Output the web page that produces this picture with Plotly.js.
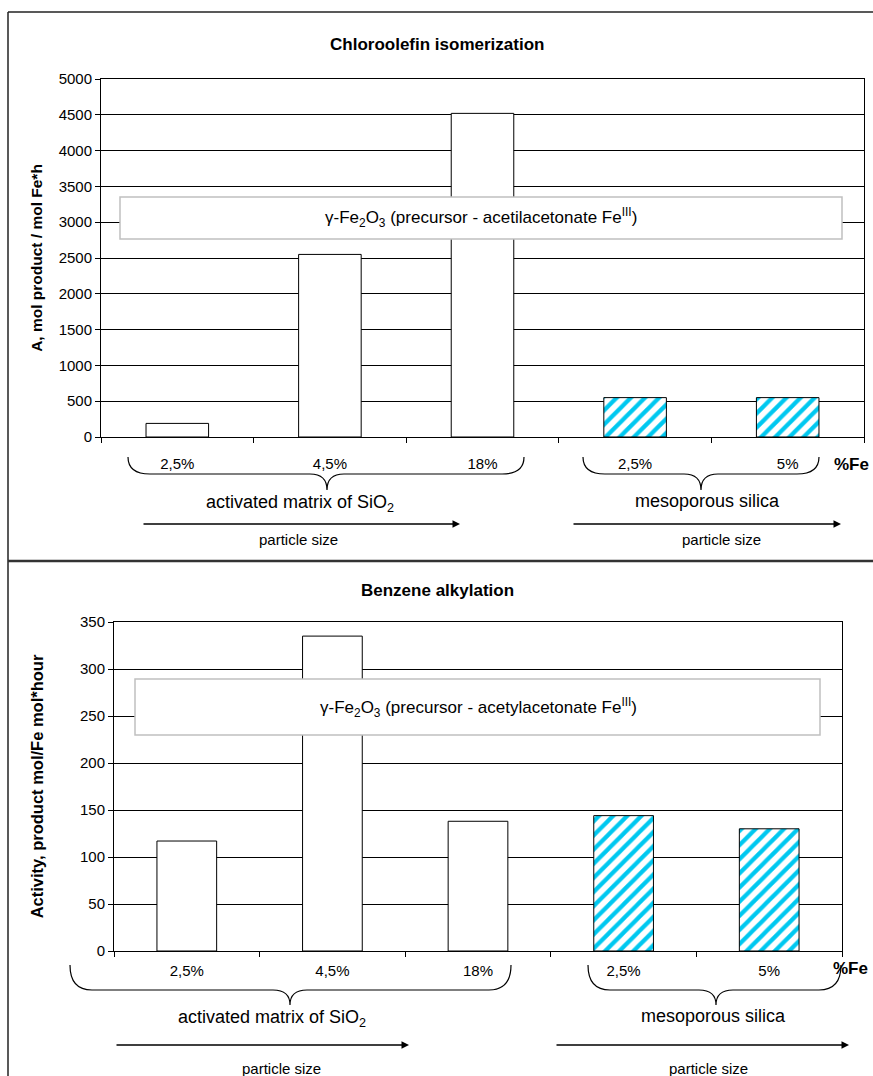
<!DOCTYPE html>
<html>
<head>
<meta charset="utf-8">
<script src="https://cdn.plot.ly/plotly-3.0.1.min.js"></script>
<style>html,body{margin:0;padding:0;background:#fff;}#chart{width:873px;height:1076px;}</style>
</head>
<body>
<div id="chart"></div>
<script>
// ---- data ----
const categoryKeys = ['SiO2 2,5%', 'SiO2 4,5%', 'SiO2 18%', 'MS 2,5%', 'MS 5%'];
const categoryLabels = ['2,5%', '4,5%', '18%', '2,5%', '5%'];
const isomerizationActivity = [190, 2550, 4520, 550, 550];
const alkylationActivity = [117, 335, 138, 144, 130];
const barPatterns = ['', '', '', '/', '/'];
const groupNames = ['activated matrix of SiO<sub>2</sub>', 'mesoporous silica'];
const titleTop = 'Chloroolefin isomerization';
const titleBottom = 'Benzene alkylation';
const yTitleTop = 'A, mol product / mol Fe*h';
const yTitleBottom = 'Activity, product mol/Fe mol*hour';
const noteTop = 'γ-Fe<sub>2</sub>O<sub>3</sub> (precursor - acetilacetonate Fe<sup>III</sup>)';
const noteBottom = 'γ-Fe<sub>2</sub>O<sub>3</sub> (precursor - acetylacetonate Fe<sup>III</sup>)';

// ---- helpers ----
const W = 873, H = 1076;
const X = p => p / W;
const Y = p => 1 - p / H;
const FONT = 'Liberation Sans, Arial, sans-serif';
const HATCH = '#00c8f0';

function barTrace(vals, xa, ya) {
  return {
    type: 'bar', x: categoryKeys, y: vals, xaxis: xa, yaxis: ya,
    marker: {
      color: '#ffffff',
      line: {color: '#000', width: 1},
      pattern: {shape: barPatterns, fgcolor: HATCH, bgcolor: '#ffffff', size: 10, solidity: 0.42, fillmode: 'replace'}
    },
    hoverinfo: 'skip', showlegend: false
  };
}

function xAxis(dom, anchor, standoff) {
  return {
    domain: dom, anchor: anchor, type: 'category',
    tickmode: 'array', tickvals: categoryKeys, ticktext: categoryLabels,
    tickson: 'boundaries', ticks: 'outside', ticklen: 5, tickcolor: '#000',
    showline: true, linecolor: '#000', linewidth: 1, mirror: true,
    showgrid: false, zeroline: false, fixedrange: true,
    tickfont: {family: FONT, size: 15, color: '#000'},
    ticklabelstandoff: standoff
  };
}
function yAxis(dom, anchor, range, dtick, title, tsize, standoff) {
  return {
    domain: dom, anchor: anchor, range: range, dtick: dtick,
    ticks: 'outside', ticklen: 5, tickcolor: '#000',
    showline: true, linecolor: '#000', linewidth: 1, mirror: true,
    showgrid: true, gridcolor: '#000', gridwidth: 1, zeroline: false, fixedrange: true,
    tickfont: {family: FONT, size: 15, color: '#000'},
    title: {text: title, font: {family: FONT, size: tsize, color: '#000', weight: 'bold'}, standoff: standoff}
  };
}

function pt(x, y) { return X(x).toFixed(5) + ',' + Y(y).toFixed(5); }
function brace(x0, x1, xm, yTop, yMid, yTip) {
  const r = 22;
  return 'M' + pt(x0, yTop) + ' Q' + pt(x0, yMid) + ' ' + pt(x0 + r, yMid) +
    ' L' + pt(xm - 17, yMid) + ' Q' + pt(xm, yMid) + ' ' + pt(xm, yTip) +
    ' Q' + pt(xm, yMid) + ' ' + pt(xm + 17, yMid) +
    ' L' + pt(x1 - r, yMid) + ' Q' + pt(x1, yMid) + ' ' + pt(x1, yTop);
}

const shapes = [];
const annotations = [];
const lineStyle = {color: '#000', width: 1.2};

// braces
shapes.push({type: 'path', xref: 'paper', yref: 'paper', path: brace(128, 524, 327, 457, 474, 490), line: lineStyle});
shapes.push({type: 'path', xref: 'paper', yref: 'paper', path: brace(583, 819, 701, 457, 474, 490), line: lineStyle});
shapes.push({type: 'path', xref: 'paper', yref: 'paper', path: brace(70, 511, 290, 965, 990, 1005), line: lineStyle});
shapes.push({type: 'path', xref: 'paper', yref: 'paper', path: brace(588, 841, 716, 965, 990, 1005), line: lineStyle});

// note boxes
shapes.push({type: 'rect', xref: 'paper', yref: 'paper', x0: X(120), x1: X(842), y0: Y(239), y1: Y(197), fillcolor: '#fff', line: {color: '#c0c0c0', width: 1.5}, layer: 'above'});
shapes.push({type: 'rect', xref: 'paper', yref: 'paper', x0: X(135), x1: X(820), y0: Y(735), y1: Y(679), fillcolor: '#fff', line: {color: '#c0c0c0', width: 1.5}, layer: 'above'});

// panel frames (open on the right edge of the picture)
shapes.push({type: 'line', xref: 'paper', yref: 'paper', x0: X(8), x1: 1, y0: Y(12), y1: Y(12), line: {color: '#222', width: 1.5}});
shapes.push({type: 'line', xref: 'paper', yref: 'paper', x0: X(8), x1: X(8), y0: Y(12), y1: 0, line: {color: '#222', width: 1.5}});
shapes.push({type: 'line', xref: 'paper', yref: 'paper', x0: X(8), x1: 1, y0: Y(561), y1: Y(561), line: {color: '#333', width: 2.5}});

function txt(text, x, y, size, bold, extra) {
  return Object.assign({xref: 'paper', yref: 'paper', x: X(x), y: Y(y), text: text, showarrow: false,
    xanchor: 'center', yanchor: 'middle',
    font: {family: FONT, size: size, color: '#000', weight: bold ? 'bold' : 'normal'}}, extra || {});
}
annotations.push(txt(titleTop, 437, 44, 17, true));
annotations.push(txt(titleBottom, 437, 590, 17, true));
annotations.push(txt(noteTop, 481, 218, 17, false));
annotations.push(txt(noteBottom, 478, 707, 17, false));
annotations.push(txt(groupNames[0], 300, 503, 18, false));
annotations.push(txt(groupNames[1], 707, 501, 18, false));
annotations.push(txt(groupNames[0], 272, 1018, 18, false));
annotations.push(txt(groupNames[1], 713, 1016, 18, false));
annotations.push(txt('particle size', 298, 539, 15, false));
annotations.push(txt('particle size', 721, 539, 15, false));
annotations.push(txt('particle size', 281, 1068, 15, false));
annotations.push(txt('particle size', 708, 1068, 15, false));
annotations.push(txt('%Fe', 851, 464, 17, true));
annotations.push(txt('%Fe', 850, 968, 17, true));

function arrow(x0, x1, y) {
  return {xref: 'paper', yref: 'paper', x: X(x1), y: Y(y), ax: X(x0), ay: Y(y), axref: 'paper', ayref: 'paper',
    text: '', showarrow: true, arrowhead: 2, arrowsize: 1, arrowwidth: 1.5, arrowcolor: '#000'};
}
annotations.push(arrow(142, 460, 524));
annotations.push(arrow(572, 841, 524));
annotations.push(arrow(115, 409, 1045));
annotations.push(arrow(555, 849, 1045));

const data = [barTrace(isomerizationActivity, 'x', 'y'), barTrace(alkylationActivity, 'x2', 'y2')];

const layout = {
  width: W, height: H, margin: {l: 0, r: 0, t: 0, b: 0},
  paper_bgcolor: '#fff', plot_bgcolor: '#fff',
  bargap: 0.59, showlegend: false,
  font: {family: FONT, color: '#000'},
  xaxis: xAxis([X(101), X(864)], 'y', 13),
  yaxis: yAxis([Y(437), Y(79)], 'x', [0, 5000], 500, yTitleTop, 15.5, 12),
  xaxis2: xAxis([X(114), X(842)], 'y2', 6),
  yaxis2: yAxis([Y(951), Y(622)], 'x2', [0, 350], 50, yTitleBottom, 16.5, 32),
  shapes: shapes, annotations: annotations
};

Plotly.newPlot('chart', data, layout, {staticPlot: true, displayModeBar: false});
</script>
</body>
</html>
